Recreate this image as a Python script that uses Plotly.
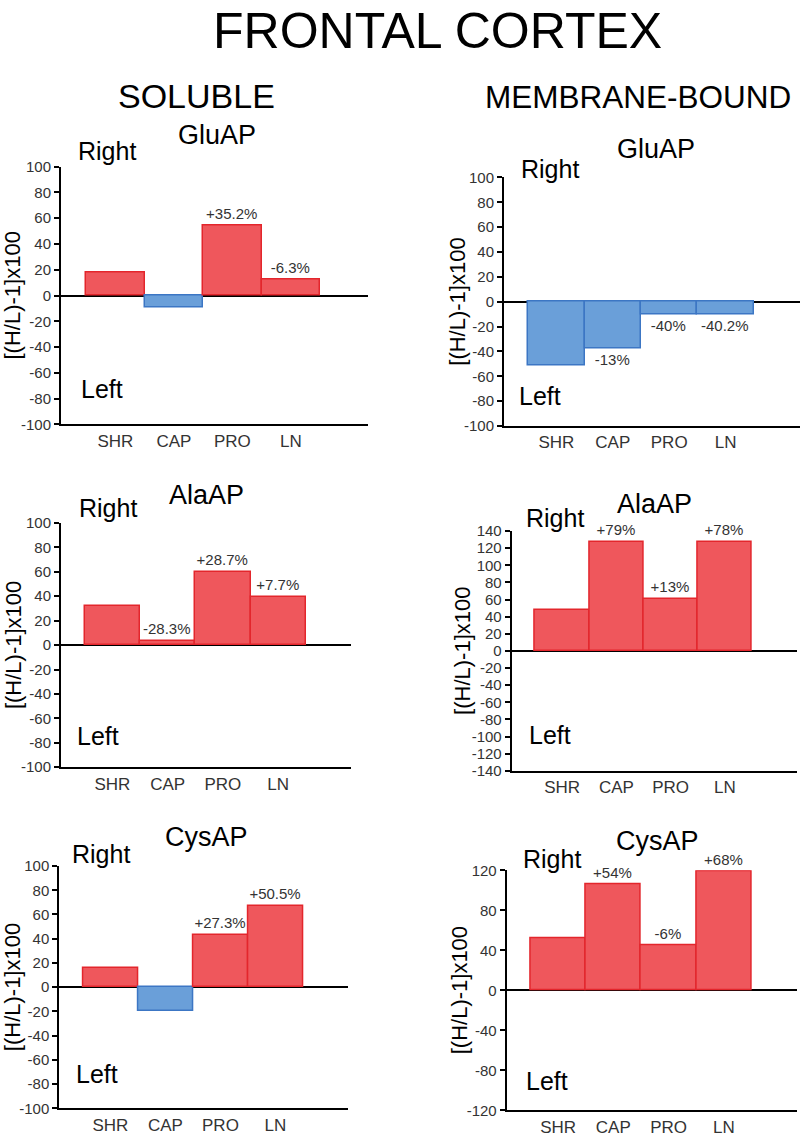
import plotly.graph_objects as go

W, H = 800, 1140

categories = ["SHR", "CAP", "PRO", "LN"]

# soluble fraction, [(H/L)-1]x100
sol_glu = [18, -9, 54, 12]
sol_ala = [32, 3, 60, 39.5]
sol_cys = [16, -20, 43, 67]
# membrane-bound fraction
mem_glu = [-51, -38, -10, -10]
mem_ala = [48, 127, 61, 127]
mem_cys = [52, 106, 45, 119]

sol_glu_lbl = ["", "", "+35.2%", "-6.3%"]
sol_ala_lbl = ["", "-28.3%", "+28.7%", "+7.7%"]
sol_cys_lbl = ["", "", "+27.3%", "+50.5%"]
mem_glu_lbl = ["", "-13%", "-40%", "-40.2%"]
mem_ala_lbl = ["", "+79%", "+13%", "+78%"]
mem_cys_lbl = ["", "+54%", "-6%", "+68%"]

titles = ["GluAP", "GluAP", "AlaAP", "AlaAP", "CysAP", "CysAP"]

FONT = "Arial, Liberation Sans, sans-serif"
RED, RED_LINE = "#EF575C", "#E3262C"
BLUE, BLUE_LINE = "#6A9FD9", "#3C76C4"
XR = [-0.93, 4.32]

# panel geometry in pixels: (axis x, unit width, top y, bottom y, y max, dtick)
panels = [
    (sol_glu, sol_glu_lbl, 61, 58.5, 160, 421.7, 100, 20),
    (mem_glu, mem_glu_lbl, 504, 56.5, 171, 423.3, 100, 20),
    (sol_ala, sol_ala_lbl, 61, 55.25, 521.7, 769.7, 100, 20),
    (mem_ala, mem_ala_lbl, 511.7, 54.25, 530, 773.3, 140, 20),
    (sol_cys, sol_cys_lbl, 59.3, 55, 870, 1116, 100, 20),
    (mem_cys, mem_cys_lbl, 506.7, 55.25, 874.3, 1118, 120, 40),
]

# text positions (center x, center y) in pixels
title_pos = [(217, 128), (656, 142), (207, 493), (654, 502), (207, 841), (657, 845)]
right_pos = [(107, 144), (550, 162), (108, 507), (555, 517), (101, 858), (552, 863)]
left_pos = [(102, 386), (540, 393), (98, 738), (550, 737), (97, 1081), (547, 1088)]
ytitle_x = [13, 458, 13, 463, 12, 459]


def px(x):
    return x / W


def py(y):
    return 1 - y / H


fig = go.Figure()
annotations = []

for i, (vals, lbls, ax, unit, top, bot, ymax, dt) in enumerate(panels):
    n = i + 1
    xa = "x" if n == 1 else f"x{n}"
    ya = "y" if n == 1 else f"y{n}"
    right = min(ax + unit * (XR[1] - XR[0]), W)
    ticks = list(range(-ymax, ymax + 1, dt))
    fig.add_trace(go.Bar(
        x=categories, y=vals, xaxis=xa, yaxis=ya,
        marker=dict(color=[RED if v >= 0 else BLUE for v in vals],
                    line=dict(color=[RED_LINE if v >= 0 else BLUE_LINE for v in vals],
                              width=1.5)),
        text=lbls, textposition="outside", cliponaxis=False,
        textfont=dict(size=15, color="#333333", family=FONT),
        width=1, showlegend=False, hoverinfo="skip",
    ))
    fig.layout[f"xaxis{'' if n == 1 else n}"] = dict(
        domain=[px(ax), px(right)], anchor=ya, range=XR,
        showline=True, linecolor="black", linewidth=2,
        ticks="", showgrid=False, zeroline=False,
        tickfont=dict(size=17, color="#333333", family=FONT),
    )
    fig.layout[f"yaxis{'' if n == 1 else n}"] = dict(
        domain=[py(bot), py(top)], anchor=xa, range=[-ymax, ymax],
        tickvals=ticks, ticktext=[str(t) for t in ticks],
        showline=True, linecolor="black", linewidth=2,
        ticks="outside", ticklen=5, tickwidth=2, tickcolor="black",
        showgrid=False, zeroline=True, zerolinecolor="black", zerolinewidth=2,
        tickfont=dict(size=15, color="#333333", family=FONT),
    )
    cy = (top + bot) / 2
    annotations += [
        dict(text=titles[i], x=px(title_pos[i][0]), y=py(title_pos[i][1]),
             font=dict(size=27, color="black", family=FONT)),
        dict(text="Right", x=px(right_pos[i][0]), y=py(right_pos[i][1]),
             font=dict(size=25, color="black", family=FONT)),
        dict(text="Left", x=px(left_pos[i][0]), y=py(left_pos[i][1]),
             font=dict(size=25, color="black", family=FONT)),
        dict(text="[(H/L)-1]x100", x=px(ytitle_x[i]), y=py(cy), textangle=-90,
             font=dict(size=22, color="black", family=FONT)),
    ]

annotations += [
    dict(text="FRONTAL CORTEX", x=px(437), y=py(22),
         font=dict(size=50, color="black", family=FONT)),
    dict(text="SOLUBLE", x=px(196), y=py(88),
         font=dict(size=34, color="black", family=FONT)),
    dict(text="MEMBRANE-BOUND", x=px(638), y=py(89),
         font=dict(size=31.5, color="black", family=FONT)),
]
for a in annotations:
    a.update(xref="paper", yref="paper", showarrow=False,
             xanchor="center", yanchor="middle")

fig.update_layout(
    width=W, height=H, margin=dict(l=0, r=0, t=0, b=0),
    paper_bgcolor="white", plot_bgcolor="white",
    bargap=0, annotations=annotations,
    font=dict(family=FONT),
)

# drop the default 8px page margin so the figure fills the window
fig.write_html("out.html", config={"displayModeBar": False},
               post_script="document.body.style.margin='0';")
